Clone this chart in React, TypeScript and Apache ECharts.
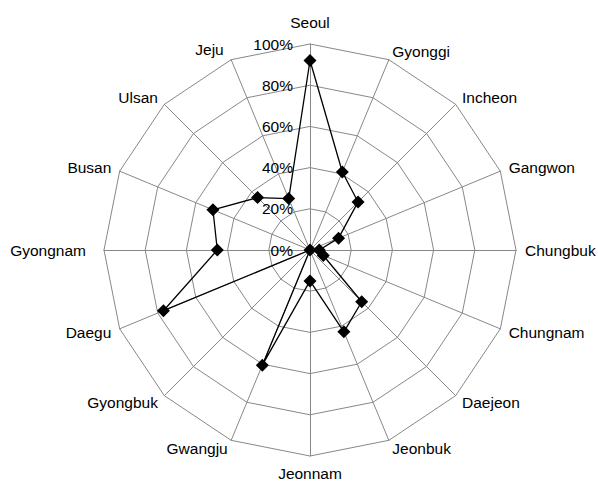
import React, { useEffect, useRef } from "react";
import * as echarts from "echarts";

// Categories in clockwise order starting from the top
const categories = [
  "Seoul", "Gyonggi", "Incheon", "Gangwon", "Chungbuk", "Chungnam", "Daejeon", "Jeonbuk",
  "Jeonnam", "Gwangju", "Gyongbuk", "Daegu", "Gyongnam", "Busan", "Ulsan", "Jeju",
];
const values = [92, 41, 33, 15, 4.5, 7, 35.5, 43, 15, 60.5, 0, 77, 45, 51, 36, 27];
const tickMin = 0;
const tickMax = 100;
const tickInterval = 20;

const FONT = "'Liberation Sans', Arial, sans-serif";

// small per-label spacing tweaks (style only)
const nameStyleTweaks: Record<string, any> = {
  Seoul: { padding: [0, 0, 5, 0] },
  Gyongnam: { padding: [0, 9, 0, 0] },
  Jeonnam: { padding: [1, 0, 0, 0], lineHeight: 15 },
  Jeju: { padding: [0, 4, 4, 0] },
};

export default function App() {
  const ref = useRef<HTMLDivElement>(null);
  useEffect(() => {
    if (!ref.current) return;
    const chart = echarts.init(ref.current, undefined, { renderer: "svg" });
    // ECharts radar goes counter-clockwise; reorder so the picture runs clockwise
    const order = [0, ...categories.map((_, i) => i).slice(1).reverse()];
    const indicator = order.map((i) => ({ name: categories[i], min: tickMin, max: tickMax }));
    const data = order.map((i) => values[i]);
    const base = { color: "#000", fontSize: 15.5, fontFamily: FONT };
    const rich: Record<string, any> = { n: { ...base } };
    Object.keys(nameStyleTweaks).forEach((k) => {
      rich[k] = { ...base, ...nameStyleTweaks[k] };
    });
    chart.setOption({
      animation: false,
      backgroundColor: "#fff",
      radar: {
        center: [310, 250],
        radius: 206,
        startAngle: 90,
        shape: "polygon",
        splitNumber: (tickMax - tickMin) / tickInterval,
        nameGap: 9,
        indicator,
        axisName: {
          ...base,
          formatter: (name: string) => (nameStyleTweaks[name] ? `{${name}|${name}}` : `{n|${name}}`),
          rich,
        },
        axisLine: { lineStyle: { color: "#888", width: 1 } },
        splitLine: { lineStyle: { color: "#888", width: 1 } },
        splitArea: { show: false },
        axisTick: { show: false },
        axisLabel: { show: false },
      },
      polar: { center: [310, 250], radius: 206 },
      angleAxis: { type: "value", min: 0, max: 360, startAngle: 90, show: false },
      radiusAxis: {
        type: "value",
        min: tickMin,
        max: tickMax,
        interval: tickInterval,
        axisLine: { show: false },
        axisTick: { show: false },
        splitLine: { show: false },
        axisLabel: {
          formatter: "{value}%",
          ...base,
          margin: 17,
        },
        z: 5,
      },
      series: [
        {
          type: "radar",
          symbol: "diamond",
          symbolSize: 13,
          lineStyle: { color: "#000", width: 1.3 },
          itemStyle: { color: "#000" },
          data: [{ value: data }],
          z: 3,
        },
      ],
    });
    return () => chart.dispose();
  }, []);
  return (
    <div
      ref={ref}
      style={{ position: "absolute", left: 0, top: 0, width: 598, height: 482 }}
    />
  );
}
